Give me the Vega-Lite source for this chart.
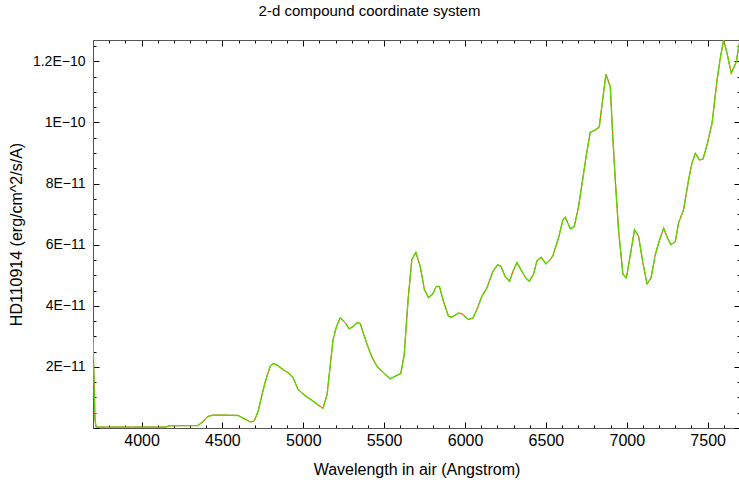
{
  "$schema": "https://vega.github.io/schema/vega-lite/v6.json",
  "width": 647,
  "height": 388,
  "autosize": {"type": "none"},
  "padding": {"left": 93, "top": 40, "right": 0, "bottom": 54},
  "background": "white",
  "title": {"text": "2-d compound coordinate system", "anchor": "middle", "frame": "group", "dx": -47, "offset": 20, "fontSize": 15, "fontWeight": "normal", "font": "Liberation Sans", "color": "#000"},
  "config": {
    "view": {"stroke": null},
    "axis": {"labelFont": "Liberation Sans", "titleFont": "Liberation Sans", "titleFontWeight": "normal", "grid": false, "domainColor": "#555", "tickColor": "#000", "labelColor": "#000", "titleColor": "#000", "labelOverlap": false}
  },
  "data": {"values": [
    {"wavelength": 3700, "flux": 2.99e-11},
    {"wavelength": 3712, "flux": 0.28e-11},
    {"wavelength": 3719, "flux": 0.03e-11},
    {"wavelength": 3929, "flux": 0.03e-11},
    {"wavelength": 4152, "flux": 0.03e-11},
    {"wavelength": 4170, "flux": 0.075e-11},
    {"wavelength": 4349, "flux": 0.08e-11},
    {"wavelength": 4380, "flux": 0.21e-11},
    {"wavelength": 4411, "flux": 0.38e-11},
    {"wavelength": 4442, "flux": 0.42e-11},
    {"wavelength": 4516, "flux": 0.42e-11},
    {"wavelength": 4597, "flux": 0.41e-11},
    {"wavelength": 4634, "flux": 0.31e-11},
    {"wavelength": 4671, "flux": 0.20e-11},
    {"wavelength": 4696, "flux": 0.22e-11},
    {"wavelength": 4721, "flux": 0.55e-11},
    {"wavelength": 4745, "flux": 1.09e-11},
    {"wavelength": 4764, "flux": 1.49e-11},
    {"wavelength": 4795, "flux": 2.02e-11},
    {"wavelength": 4815, "flux": 2.11e-11},
    {"wavelength": 4844, "flux": 2.04e-11},
    {"wavelength": 4875, "flux": 1.91e-11},
    {"wavelength": 4906, "flux": 1.81e-11},
    {"wavelength": 4937, "flux": 1.65e-11},
    {"wavelength": 4968, "flux": 1.26e-11},
    {"wavelength": 5011, "flux": 1.06e-11},
    {"wavelength": 5061, "flux": 0.88e-11},
    {"wavelength": 5121, "flux": 0.64e-11},
    {"wavelength": 5147, "flux": 1.09e-11},
    {"wavelength": 5184, "flux": 2.89e-11},
    {"wavelength": 5203, "flux": 3.28e-11},
    {"wavelength": 5228, "flux": 3.61e-11},
    {"wavelength": 5259, "flux": 3.45e-11},
    {"wavelength": 5283, "flux": 3.25e-11},
    {"wavelength": 5308, "flux": 3.32e-11},
    {"wavelength": 5333, "flux": 3.45e-11},
    {"wavelength": 5352, "flux": 3.42e-11},
    {"wavelength": 5370, "flux": 3.12e-11},
    {"wavelength": 5395, "flux": 2.73e-11},
    {"wavelength": 5426, "flux": 2.30e-11},
    {"wavelength": 5457, "flux": 2.01e-11},
    {"wavelength": 5488, "flux": 1.85e-11},
    {"wavelength": 5537, "flux": 1.61e-11},
    {"wavelength": 5588, "flux": 1.75e-11},
    {"wavelength": 5603, "flux": 1.78e-11},
    {"wavelength": 5624, "flux": 2.40e-11},
    {"wavelength": 5648, "flux": 4.20e-11},
    {"wavelength": 5671, "flux": 5.51e-11},
    {"wavelength": 5696, "flux": 5.75e-11},
    {"wavelength": 5723, "flux": 5.29e-11},
    {"wavelength": 5749, "flux": 4.53e-11},
    {"wavelength": 5774, "flux": 4.27e-11},
    {"wavelength": 5801, "flux": 4.39e-11},
    {"wavelength": 5822, "flux": 4.63e-11},
    {"wavelength": 5842, "flux": 4.63e-11},
    {"wavelength": 5867, "flux": 4.14e-11},
    {"wavelength": 5898, "flux": 3.65e-11},
    {"wavelength": 5919, "flux": 3.63e-11},
    {"wavelength": 5960, "flux": 3.76e-11},
    {"wavelength": 5981, "flux": 3.74e-11},
    {"wavelength": 6021, "flux": 3.55e-11},
    {"wavelength": 6049, "flux": 3.60e-11},
    {"wavelength": 6073, "flux": 3.87e-11},
    {"wavelength": 6104, "flux": 4.31e-11},
    {"wavelength": 6135, "flux": 4.58e-11},
    {"wavelength": 6172, "flux": 5.12e-11},
    {"wavelength": 6201, "flux": 5.34e-11},
    {"wavelength": 6222, "flux": 5.29e-11},
    {"wavelength": 6248, "flux": 4.96e-11},
    {"wavelength": 6275, "flux": 4.80e-11},
    {"wavelength": 6296, "flux": 5.12e-11},
    {"wavelength": 6321, "flux": 5.42e-11},
    {"wavelength": 6352, "flux": 5.12e-11},
    {"wavelength": 6376, "flux": 4.91e-11},
    {"wavelength": 6397, "flux": 4.80e-11},
    {"wavelength": 6424, "flux": 5.04e-11},
    {"wavelength": 6445, "flux": 5.48e-11},
    {"wavelength": 6471, "flux": 5.59e-11},
    {"wavelength": 6500, "flux": 5.37e-11},
    {"wavelength": 6527, "flux": 5.51e-11},
    {"wavelength": 6543, "flux": 5.64e-11},
    {"wavelength": 6578, "flux": 6.22e-11},
    {"wavelength": 6605, "flux": 6.81e-11},
    {"wavelength": 6620, "flux": 6.90e-11},
    {"wavelength": 6651, "flux": 6.52e-11},
    {"wavelength": 6675, "flux": 6.59e-11},
    {"wavelength": 6702, "flux": 7.25e-11},
    {"wavelength": 6727, "flux": 8.12e-11},
    {"wavelength": 6749, "flux": 8.90e-11},
    {"wavelength": 6774, "flux": 9.68e-11},
    {"wavelength": 6805, "flux": 9.75e-11},
    {"wavelength": 6830, "flux": 9.86e-11},
    {"wavelength": 6871, "flux": 11.58e-11},
    {"wavelength": 6898, "flux": 11.17e-11},
    {"wavelength": 6913, "flux": 9.59e-11},
    {"wavelength": 6929, "flux": 8.12e-11},
    {"wavelength": 6949, "flux": 6.49e-11},
    {"wavelength": 6976, "flux": 5.04e-11},
    {"wavelength": 6997, "flux": 4.91e-11},
    {"wavelength": 7017, "flux": 5.51e-11},
    {"wavelength": 7048, "flux": 6.49e-11},
    {"wavelength": 7073, "flux": 6.27e-11},
    {"wavelength": 7100, "flux": 5.40e-11},
    {"wavelength": 7125, "flux": 4.72e-11},
    {"wavelength": 7150, "flux": 4.91e-11},
    {"wavelength": 7176, "flux": 5.67e-11},
    {"wavelength": 7203, "flux": 6.16e-11},
    {"wavelength": 7228, "flux": 6.54e-11},
    {"wavelength": 7252, "flux": 6.22e-11},
    {"wavelength": 7273, "flux": 6.00e-11},
    {"wavelength": 7300, "flux": 6.10e-11},
    {"wavelength": 7320, "flux": 6.71e-11},
    {"wavelength": 7351, "flux": 7.14e-11},
    {"wavelength": 7382, "flux": 8.12e-11},
    {"wavelength": 7403, "flux": 8.67e-11},
    {"wavelength": 7424, "flux": 8.99e-11},
    {"wavelength": 7450, "flux": 8.77e-11},
    {"wavelength": 7471, "flux": 8.80e-11},
    {"wavelength": 7496, "flux": 9.26e-11},
    {"wavelength": 7527, "flux": 9.97e-11},
    {"wavelength": 7558, "flux": 11.39e-11},
    {"wavelength": 7578, "flux": 12.10e-11},
    {"wavelength": 7599, "flux": 12.70e-11},
    {"wavelength": 7620, "flux": 12.26e-11},
    {"wavelength": 7646, "flux": 11.61e-11},
    {"wavelength": 7677, "flux": 11.99e-11},
    {"wavelength": 7696, "flux": 12.59e-11}
  ]},
  "layer": [
    {
      "mark": {"type": "line", "color": "#ff3300", "strokeWidth": 1.0, "clip": true},
      "encoding": {
        "x": {"field": "wavelength", "type": "quantitative",
          "scale": {"domain": [3700, 7700], "nice": false, "zero": false},
          "axis": {"orient": "bottom", "title": "Wavelength in air (Angstrom)", "titleFontSize": 16, "titlePadding": 10,
            "values": [3700,3800,3900,4000,4100,4200,4300,4400,4500,4600,4700,4800,4900,5000,5100,5200,5300,5400,5500,5600,5700,5800,5900,6000,6100,6200,6300,6400,6500,6600,6700,6800,6900,7000,7100,7200,7300,7400,7500,7600,7700],
            "labelExpr": "datum.value % 500 === 0 ? datum.value + '' : ''",
            "labelFontSize": 16, "labelPadding": 10,
            "tickSize": {"condition": {"test": "datum.value % 500 === 0", "value": -6}, "value": -3}}},
        "y": {"field": "flux", "type": "quantitative",
          "scale": {"domain": [0, 1.27e-10], "nice": false},
          "axis": {"orient": "left", "title": "HD110914 (erg/cm^2/s/A)", "titleFontSize": 16, "titlePadding": 8,
            "values": [0,5e-12,1e-11,1.5e-11,2e-11,2.5e-11,3e-11,3.5e-11,4e-11,4.5e-11,5e-11,5.5e-11,6e-11,6.5e-11,7e-11,7.5e-11,8e-11,8.5e-11,9e-11,9.5e-11,1e-10,1.05e-10,1.1e-10,1.15e-10,1.2e-10,1.25e-10],
            "labelExpr": "(datum.value > 0 && abs(datum.value/2e-11 - round(datum.value/2e-11)) < 0.001) ? replace(replace(format(datum.value, '~e'), 'e', 'E'), '-', '−') : ''",
            "labelFontSize": 14, "labelPadding": 14,
            "tickSize": {"condition": {"test": "abs(datum.value/2e-11 - round(datum.value/2e-11)) < 0.001", "value": -6}, "value": -3}}}
      }
    },
    {
      "mark": {"type": "line", "color": "#5cd600", "strokeWidth": 1.4, "strokeDash": [24, 1.5], "clip": true},
      "encoding": {
        "x": {"field": "wavelength", "type": "quantitative",
          "scale": {"domain": [3700, 7700], "nice": false, "zero": false},
          "axis": {"orient": "top", "title": null, "labels": false,
            "values": [3700,3800,3900,4000,4100,4200,4300,4400,4500,4600,4700,4800,4900,5000,5100,5200,5300,5400,5500,5600,5700,5800,5900,6000,6100,6200,6300,6400,6500,6600,6700,6800,6900,7000,7100,7200,7300,7400,7500,7600,7700],
            "tickSize": {"condition": {"test": "datum.value % 500 === 0", "value": -6}, "value": -3}}},
        "y": {"field": "flux", "type": "quantitative",
          "scale": {"domain": [0, 1.27e-10], "nice": false},
          "axis": {"orient": "right", "title": null, "labels": false,
            "values": [0,5e-12,1e-11,1.5e-11,2e-11,2.5e-11,3e-11,3.5e-11,4e-11,4.5e-11,5e-11,5.5e-11,6e-11,6.5e-11,7e-11,7.5e-11,8e-11,8.5e-11,9e-11,9.5e-11,1e-10,1.05e-10,1.1e-10,1.15e-10,1.2e-10,1.25e-10],
            "tickSize": {"condition": {"test": "abs(datum.value/2e-11 - round(datum.value/2e-11)) < 0.001", "value": -6}, "value": -3}}}
      }
    }
  ],
  "resolve": {"scale": {"x": "independent", "y": "independent"}}
}
